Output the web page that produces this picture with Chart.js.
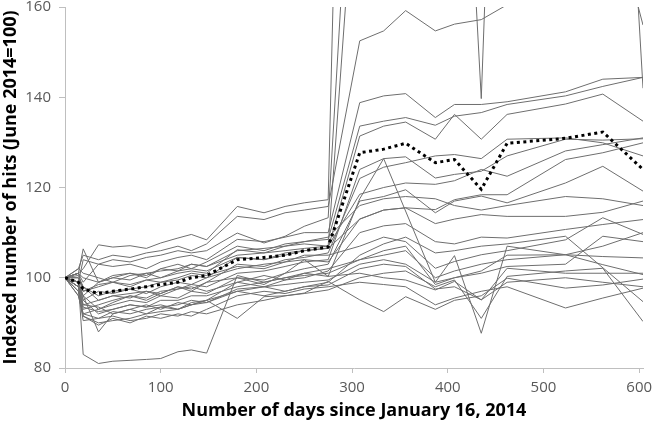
<!DOCTYPE html>
<html lang="en">
<head>
<meta charset="UTF-8" />
<title>Indexed number of hits</title>
<script src="https://cdn.jsdelivr.net/npm/chart.js"></script>
<style>
  html, body { margin: 0; padding: 0; background: #fff; }
</style>
</head>
<body>
<canvas id="hitsChart" width="652" height="424"></canvas>
<script>
// sample days (x) shared by every series; null = no vertex there
const days = [0, 14, 19, 35, 50, 68, 85, 100, 118, 132, 148, 180, 208, 230, 250, 275, 308, 333, 356, 387, 407, 435, 462, 523, 562, 604];
const xTicks = [0, 100, 200, 300, 400, 500, 600];
const yTicks = [80, 100, 120, 140, 160];

const meanHits = [100, 99, 97.5, 96.5, 97, 97.5, 98, 98.5, 99, 100, 100.5, 104, 104.5, 105, 106, 106.8, 127.7, 128.5, 129.8, 125.5, 126.2, 119.6, 129.8, 130.9, 132.3, 124];

const line01 = [100, 101, 102, 107.3, 106.8, 107.1, 106.5, 107.7, 108.8, 109.6, 108.4, 115.8, 114.4, 115.8, 116.6, 117.3, 400, 420, 430, 440, 450, 460, 470, 480, 490, 500];
const line02 = [100, 99, 104, 103, 104, 103.5, 104.5, 105, 106, 105.5, 106, 109.9, 107.7, 109.2, 111.4, 113.3, 232, 240, 250, 255, 250, 139.7, 296, 300, 310, 320];
const line03 = [100, 98, 96, 99, 100, 99.5, 101, 101.5, 102, 103, 102.5, 106, 106.5, 107, 107.5, 107, 204, 215, 225, 235, 245, 255, 265, 280, 295, 142];
const line04 = [100, 102, 105, 104, 105, 104.5, 105.5, 106, 107, 106, 107.5, 113.6, 112.9, 114.4, 115, 115.8, 152.5, 154.7, 159.2, 154.7, 156.2, 157.2, 160.5, 175, 190, 156];
const line05 = [100, 101, 99, 103, 102.5, 103, 102, 103.5, 104.5, 105, 104, 108.5, 108, 109, 110, 110, 138.8, 140.3, 140.8, 135.5, 138.4, 138.4, 139, 141.2, 144, 144.4];
const line06 = [100, 100, 97, 98, 99, 98.5, 99.5, 100, 101, 101.5, 101, 106.2, 105.5, 107, 108, 108.5, 133.6, 134.7, 135.5, 133.8, 135.8, 136.6, 138.4, 140.3, 142.4, 144.4];
const line07 = [100, 99, 95, 97, 96.5, 97.5, 98, 99, 99.5, 100.5, 100, 104.5, 104, 105, 106, 106.6, 131.4, 133.6, 134.5, 130.7, 136.2, 130.7, 136.2, 138.5, 140.7, 134.7];
const line08 = [100, 97, 92, 93, 94.5, 96, 95, 96.5, 98, 97, 99, 100, 98.5, 101, 104, 100.3, 117.5, 126.4, null, 99, 104.9, 87.7, 107, 105.1, 102.9, 100.7];
const line09 = [100, 97, 94, 95, 96, 95.5, 97, 96.5, 98, 97.5, 99, 103, 102.5, 104, 104.5, 105.5, 122, 124.5, 125.5, 127, 127.3, 126.4, 130.7, 131, 129.9, 127];
const line10 = [100, 101, 100, 99, 100.5, 101, 100, 102, 101.5, 103, 102.5, 105, 105.5, 106, 106.5, 107, 118.5, 120, 121, 120.7, 121.5, 124, 122.5, 128.1, 129.5, 131];
const line11 = [100, 98, 93, 94, 95, 96, 95.5, 97, 97.5, 98.5, 98, 101, 101.5, 102.5, 103.5, 104, 124, 126.4, 126.8, 122.1, 122.9, 123.6, 127, 130.7, 130.5, 130.8];
const line12 = [100, 102, 101, 100, 99, 100.5, 101, 100, 101.5, 102, 101.5, 104.5, 104, 105.5, 106, 106.5, 113, 115, 115.5, 115.1, 117.3, 118.4, 118.4, 126.2, 127.7, 129.9];
const line13 = [100, 99, 96, 93, 94, 95, 94.5, 96, 95.5, 97, 96.5, 100, 99.5, 101, 102, 103, 117, 118, 119.5, 114.4, 117, 118.1, 116.6, 121, 124.7, 119.2];
const line14 = [100, 100.5, 98, 96, 97, 97.5, 96.5, 98, 99, 98.5, 100, 102, 103, 103.5, 104, 103.5, 113, 115, 115.5, 112, 113, 114, 113.6, 113.6, 114.5, 117];
const line15 = [100, 98, 91.5, 90, 90.5, 91, 92, 92.5, 93, 94, 95, 99, 98, 99.5, 100, 101.5, 110, 111.5, 112, 108, 107.5, 109, 108.8, 110.7, 111.8, 112.9];
const line16 = [100, 101, 97, 98.5, 99, 98, 99.5, 99, 100, 101, 100.5, 102.5, 102, 103.5, 105, 105, 107, 109, 108, 102.1, 103.6, 105.1, 106, 108.4, 113.3, 109.6];
const line17 = [100, 99, 95, 92, 93, 94, 93.5, 95, 95, 96, 96, 98, 99, 100, 100.5, 101, 104, 105, 106, 100, 101.5, 103, 104, 105.1, 107, 110];
const line18 = [100, 96, 92, 91, 92.5, 92, 93, 93.5, 94, 95, 94.5, 97, 98, 98.5, 99, 99.5, 103, 104, 103, 99, 100, 101, 102.5, 103, 109.2, 108];
const line19 = [100, 100, 98, 95, 96, 96.5, 97, 96, 97.5, 98, 97, 99, 100.5, 99.5, 101, 102, 104, 106, 107, 98.5, 100, 101.5, 105, 105.1, 104.7, 104.4];
const line20 = [100, 99, 94, 93.5, 92, 93, 94, 93, 94.5, 94, 95, 97, 96, 97, 98, 98.4, 102, 103, 102.5, 97.5, 98, 95.1, 102.1, 101, 101, 101];
const line21 = [100, 97, 90.5, 91, 91.5, 90.5, 91, 92, 91.5, 92.5, 92, 94, 95, 96, 96.5, 97.3, 100, 101, 101.5, 98, 99.5, 91, 100.3, 101.5, 102.1, 90.3];
const line22 = [100, 98, 93.5, 92.5, 93, 94, 93.5, 94, 93, 94.5, 95, 91, 95.8, 96, 96.6, 99.2, 95.1, 92.5, 95.8, 93, 95, 96, 99.9, 97.7, 98.4, 99.7];
const line23 = [100, 96, 91.5, 89.5, 91, 90, 91.5, 91, 92, 91.5, 93, 96, 97, 96.5, 97.5, 98, 99, 98.5, 98, 94, 95.5, 97, 98, 93.3, 95.5, 97.7];
const line24 = [100, 99, 96, 88, 92, 93, 92, 93.5, 93, 94, 94.5, 97.5, 98, 97, 98, 99, 105, 107.5, 109, 105.5, 106, 107, 107.5, 109.2, null, 94.7];
const line25 = [100, 99, 83, 81, 81.5, 81.7, 81.9, 82.1, 83.6, 84, 83.3, 100.5, 99, 100, 101, 100.3, 101, 100, 99.5, 97.3, 99.2, 95.1, 99, 100, 99, 98];
const line26 = [100, 101, 106.4, 99, 100, 101, 100.5, 102, 103, 102, 103.5, 107, 106, 107.5, 108, 109, 116, 117.5, 118, 117.5, 116, 115, 116, 118, 117.5, 116];

const grayLines = [line01, line02, line03, line04, line05, line06, line07, line08, line09, line10, line11, line12, line13,
  line14, line15, line16, line17, line18, line19, line20, line21, line22, line23, line24, line25, line26];

const toPoints = vals => days.map((d, i) => ({ x: d, y: vals[i] }));

const datasets = [{
  data: toPoints(meanHits),
  borderColor: '#000000',
  borderWidth: 3,
  borderDash: [3, 3.5],
  spanGaps: true
}].concat(grayLines.map(vals => ({
  data: toPoints(vals),
  borderColor: '#6e6e6e',
  borderWidth: 1,
  spanGaps: true
})));

const tickFont = { family: 'Open Sans', size: 15 };
const titleFont = { family: 'Open Sans', size: 18, weight: 'bold' };

new Chart(document.getElementById('hitsChart'), {
  type: 'line',
  data: { datasets: datasets },
  options: {
    responsive: false,
    animation: false,
    events: [],
    layout: { padding: { top: 7, right: 9, left: 0, bottom: 0 } },
    plugins: { legend: { display: false }, tooltip: { enabled: false } },
    elements: { point: { radius: 0 }, line: { tension: 0 } },
    scales: {
      x: {
        type: 'linear',
        min: 0,
        max: 604,
        afterBuildTicks: s => { s.ticks = xTicks.map(v => ({ value: v })); },
        afterFit: s => { s.height = 56; s.paddingLeft = 0; s.paddingRight = 0; },
        grid: { drawOnChartArea: false, drawTicks: true, tickLength: 5, color: '#bfbfbf' },
        border: { color: '#bfbfbf' },
        ticks: { color: '#595959', font: tickFont, padding: 6, maxRotation: 0 },
        title: { display: true, text: 'Number of days since January 16, 2014', color: '#000000', font: titleFont, padding: { top: 0, bottom: 2 } }
      },
      y: {
        min: 80,
        max: 160,
        afterBuildTicks: s => { s.ticks = yTicks.map(v => ({ value: v })); },
        afterFit: s => { s.width = 65; s.paddingTop = 0; s.paddingBottom = 0; },
        grid: { drawOnChartArea: false, drawTicks: true, tickLength: 6, color: '#bfbfbf' },
        border: { color: '#bfbfbf' },
        ticks: { color: '#595959', font: tickFont, padding: 8 },
        title: { display: true, text: 'Indexed number of hits (June 2014=100)', color: '#000000', font: titleFont, padding: { top: 0, bottom: 0 } }
      }
    }
  }
});
</script>
</body>
</html>
